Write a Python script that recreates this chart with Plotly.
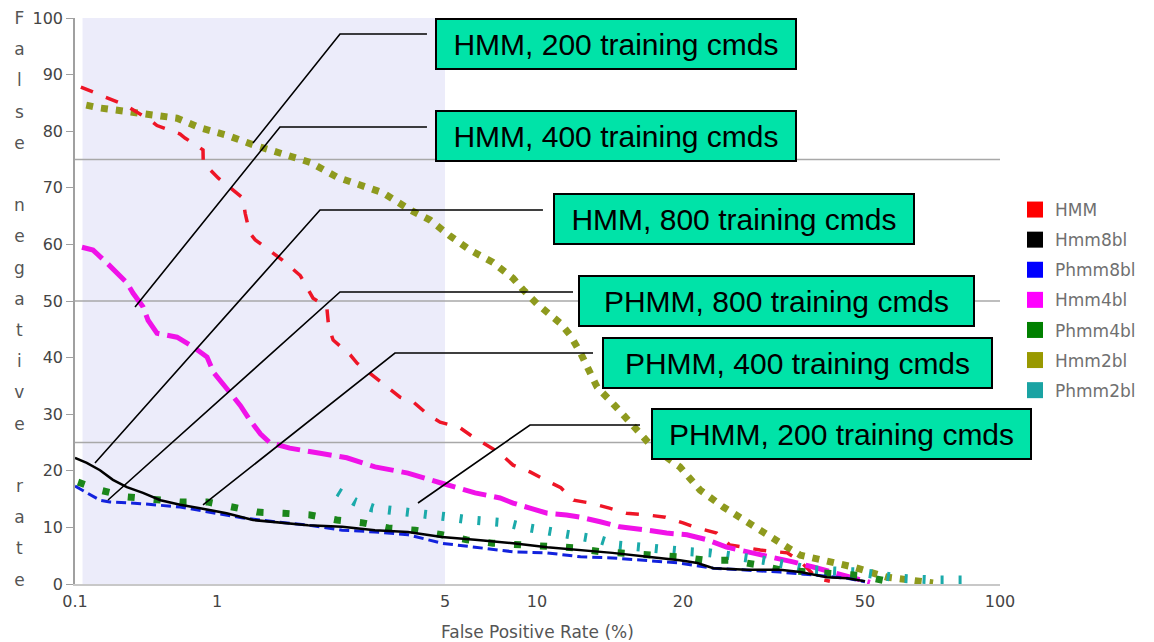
import numpy as np
import plotly.graph_objects as go

# custom x scale of the original chart (piecewise log, in axis units)
tick_vals = [0.1, 1, 5, 10, 20, 50, 100]
tick_text = ["0.1", "1", "5", "10", "20", "50", "100"]
tick_pos = [0, 142, 370, 462, 608, 790, 925]

# false positive rate (%) / false negative rate (%)
hmm_fpr = [0.11, 0.15, 0.225, 0.337, 0.378, 0.55, 0.595, 0.797, 0.80, 1.01, 1.08, 1.20, 1.22, 1.26, 1.31,
           1.45, 1.59, 1.80, 1.97, 2.17, 2.20, 2.27, 2.56, 2.69, 3.12, 3.64, 3.99, 4.44, 4.83, 5.6, 6.17,
           7.02, 7.57, 8.35, 9.49, 10.4, 11.2, 11.9, 12.9, 14.1, 15.3, 16.9, 18.4, 20.0, 21.5, 23.7, 25.3,
           29.5, 33.8, 36.1, 39.3, 41.9]
hmm_fnr = [87.8, 86.4, 84.6, 82.0, 81.0, 79.5, 78.8, 76.7, 74.4, 71.7, 70.3, 68.2, 65.5, 62.0, 60.8,
           59.0, 57.2, 54.5, 50.5, 49.0, 45.4, 43.1, 40.5, 39.0, 36.0, 33.0, 32.2, 29.9, 28.6, 27.6, 26.0,
           24.2, 23.1, 21.0, 19.8, 18.4, 17.0, 14.8, 14.3, 13.4, 12.5, 12.2, 11.8, 10.8, 9.9, 9.0, 6.9,
           6.0, 5.5, 4.0, 1.0, 0.5]

hmm8_fpr = [0.1, 0.121, 0.15, 0.185, 0.232, 0.301, 0.40, 0.55, 0.76, 1.07, 1.29, 1.56, 1.90, 2.42, 3.05,
            3.85, 4.89, 6.27, 8.35, 10.5, 12.3, 14.3, 16.9, 19.7, 21.5, 23.3, 27.6, 32.6, 36.1, 41.3, 45.7, 50]
hmm8_fnr = [22.3, 21.4, 20.1, 18.4, 17.1, 16.1, 14.8, 14.0, 13.4, 12.5, 11.3, 10.8, 10.4, 10.1, 9.5,
            9.2, 8.3, 7.8, 7.2, 6.5, 6.0, 5.5, 4.8, 4.2, 3.7, 2.8, 2.5, 2.5, 2.1, 1.2, 1.0, 0.5]

phmm8_fpr = [0.1, 0.15, 0.176, 0.29, 0.55, 0.893, 1.19, 1.51, 1.90, 2.42, 3.05, 3.85, 4.89, 6.27, 8.35,
             10.5, 12.3, 14.3, 16.9, 19.7, 23.3, 27.6, 32.6, 38.5, 45.7, 50]
phmm8_fnr = [17.3, 14.8, 14.5, 14.2, 13.6, 12.7, 11.7, 11.0, 10.4, 9.5, 9.2, 8.7, 7.2, 6.5, 5.7,
             5.5, 4.8, 4.6, 4.2, 3.7, 2.8, 2.5, 2.1, 1.6, 1.0, 0.4]

hmm4_fpr = [0.112, 0.134, 0.168, 0.198, 0.232, 0.256, 0.301, 0.327, 0.378, 0.523, 0.678, 0.851, 0.95,
            1.10, 1.18, 1.26, 1.36, 1.45, 1.67, 2.07, 2.50, 3.05, 3.85, 4.89, 6.27, 7.57, 8.35, 9.49,
            10.5, 11.5, 12.3, 13.5, 14.8, 16.9, 18.5, 20.4, 22.6, 24.9, 28.4, 31.5, 34.8, 38.5, 42.6,
            47.1, 51.3]
hmm4_fnr = [59.5, 59.0, 56.7, 54.9, 53.2, 51.4, 49.0, 46.6, 44.3, 43.6, 41.9, 40.1, 37.3,
            33.7, 31.5, 29.0, 26.5, 25.0, 24.0, 23.1, 22.3, 20.7, 19.6, 17.8, 16.1, 15.2, 14.3, 13.4,
            12.5, 12.2, 11.8, 11.0, 10.1, 9.5, 9.0, 8.7, 7.8, 6.5, 5.5, 4.8, 3.9, 3.0, 2.1,
            1.2, 0.3]

phmm4_fpr = [0.105, 0.155, 0.232, 0.354, 0.55, 0.85, 1.11, 1.33, 1.60, 1.93, 2.33, 2.80, 3.35, 4.05,
             4.89, 5.90, 7.18, 8.8, 10.5, 11.9, 13.5, 15.3, 17.3, 19.7, 22.4, 25.3, 29.0, 32.6, 37.9,
             43.5, 48.8, 56]
phmm4_fnr = [18.0, 16.5, 15.4, 15.0, 14.5, 14.5, 13.6, 12.7, 12.5, 12.2, 11.3, 10.8, 9.9, 9.5,
             8.7, 7.8, 7.2, 6.9, 6.5, 6.4, 5.7, 5.5, 5.1, 4.8, 4.2, 4.2, 3.4, 2.5, 2.1,
             1.9, 1.5, 0.5]

hmm2_fpr = [0.12, 0.15, 0.244, 0.40, 0.523, 0.76, 1.07, 1.29, 1.59, 1.93, 2.33, 2.69, 3.23, 3.91, 4.50,
            5.19, 6.04, 7.18, 8.35, 9.0, 10.0, 11.2, 11.7, 12.3, 12.9, 13.3, 14.3, 15.6, 17.3, 19.7,
            21.8, 24.5, 27.1, 29.9, 33.8, 36.1, 42.6, 47.1, 56, 65.3, 70.9]
hmm2_fnr = [84.6, 84.1, 83.4, 82.5, 82.3, 80.6, 79.3, 77.6, 76.1, 74.5, 71.9, 70.8, 69.1, 66.1, 64.3,
            61.5, 59.0, 56.8, 54.0, 52.0, 49.5, 46.0, 44.0, 40.8, 37.3, 34.8, 32.0, 28.4, 24.2, 20.7,
            16.6, 13.6, 11.3, 9.0, 6.5, 5.1, 3.9, 3.0, 1.2, 0.7, 0.2]

phmm2_fpr = [2.35, 2.65, 3.01, 3.44, 3.91, 4.50, 5.19, 6.04, 6.86, 7.98, 9.0, 10.3, 11.2, 12.3, 13.5,
             14.6, 16.1, 17.3, 19.1, 20.7, 22.9, 24.9, 27.6, 29.9, 34.3, 37.9, 48.8, 53.1, 59.8, 72.4,
             79.4, 88.0]
phmm2_fnr = [16.3, 14.5, 13.4, 13.1, 12.7, 12.2, 11.8, 11.3, 11.0, 10.8, 10.1, 9.5, 9.0, 8.3, 7.8,
             6.9, 6.5, 6.4, 6.0, 5.7, 5.5, 5.1, 4.8, 4.2, 3.3, 2.5, 2.1, 1.6, 1.0, 0.7,
             0.7, 0.7]

shade_from, shade_to = 0.113, 5
grid_levels = [25, 50, 75]

callouts = ["HMM, 200 training cmds", "HMM, 400 training cmds", "HMM, 800 training cmds",
            "PHMM, 800 training cmds", "PHMM, 400 training cmds", "PHMM, 200 training cmds"]


def to_axis(fpr):
    return np.interp(np.log10(fpr), np.log10(tick_vals), tick_pos)


# plot area in window pixels: left 75, right 1000, top 18, bottom 584
def px_x(px):
    return (px - 75) / 925


def px_y(py):
    return (584 - py) / 566


series = [
    ("HMM", hmm_fpr, hmm_fnr, "#EE1526", 3.5, "13px,14px"),
    ("Hmm8bl", hmm8_fpr, hmm8_fnr, "#000000", 2.5, "solid"),
    ("Phmm8bl", phmm8_fpr, phmm8_fnr, "#1222DD", 3, "10px,5px"),
    ("Hmm4bl", hmm4_fpr, hmm4_fnr, "#F012E8", 5, "24px,8px"),
    ("Phmm4bl", phmm4_fpr, phmm4_fnr, "#1B861B", 7, "7px,19px"),
    ("Hmm2bl", hmm2_fpr, hmm2_fnr, "#8E9A1E", 7, "7px,8px"),
    ("Phmm2bl", phmm2_fpr, phmm2_fnr, "#1BAAAA", 9, "3px,15px"),
]
legend_colors = ["#FF0000", "#000000", "#0000FF", "#FF00FF", "#008000", "#999900", "#1AA3A3"]

fig = go.Figure()

# draw order: back to front
for idx in [5, 0, 3, 6, 4, 2, 1]:
    name, xs, ys, color, width, dash = series[idx]
    fig.add_trace(go.Scatter(x=to_axis(xs), y=ys, mode="lines", name=name, showlegend=False,
                             line=dict(color=color, width=width, dash=dash)))

for (name, _, _, _, _, _), lc in zip(series, legend_colors):
    fig.add_trace(go.Scatter(x=[None], y=[None], mode="markers", name=name, legendgroup=name,
                             marker=dict(symbol="square", size=16, color=lc)))

shapes = [dict(type="rect", xref="x", yref="paper", x0=to_axis(shade_from), x1=to_axis(shade_to),
               y0=0, y1=1, fillcolor="#ECECFA", line=dict(width=0), layer="below")]
for g in grid_levels:
    shapes.append(dict(type="line", xref="paper", yref="y", x0=0, x1=1, y0=g, y1=g,
                       line=dict(color="#A8A8A8", width=1.5), layer="below"))

# leader lines (pixel positions) and callout boxes (left, top, right, bottom)
leaders = [
    [(427, 34), (340, 34), (253, 143)],
    [(427, 127), (280, 127), (135, 307)],
    [(543, 210), (320, 210), (95, 463)],
    [(573, 292), (340, 292), (108, 500)],
    [(593, 353), (395, 353), (203, 505)],
    [(640, 425), (530, 425), (418, 503)],
]
boxes = [(435, 18, 797, 70), (435, 110, 797, 162), (553, 193, 915, 245),
         (578, 275, 975, 327), (602, 337, 993, 389), (651, 408, 1032, 460)]

for pts in leaders:
    path = "M " + " L ".join(f"{px_x(a):.4f},{px_y(b):.4f}" for a, b in pts)
    shapes.append(dict(type="path", xref="paper", yref="paper", path=path,
                       line=dict(color="#000000", width=1.6)))

annotations = []
for text, (l, t, r, b) in zip(callouts, boxes):
    annotations.append(dict(
        text=text, xref="paper", yref="paper", x=px_x((l + r) / 2), y=px_y((t + b) / 2),
        xanchor="center", yanchor="middle", showarrow=False, width=r - l - 4, height=b - t - 4,
        bgcolor="#00E3A8", bordercolor="#000000", borderwidth=2, borderpad=0,
        font=dict(family="Liberation Sans", size=30, color="#000000")))

# vertical, letter-by-letter y axis title
ytitle = "False negative rate"
letters = ["<span style='font-size:17px'>%s</span>" % c if c != " " else "" for c in ytitle]
annotations.append(dict(
    text="<br>".join(letters), xref="paper", yref="paper", x=px_x(19), y=px_y(299),
    xanchor="center", yanchor="middle", showarrow=False, align="center",
    font=dict(family="DejaVu Sans", size=24, color="#555555")))

annotations.append(dict(
    text="False Positive Rate (%)", xref="paper", yref="paper", x=0.5, y=px_y(632),
    xanchor="center", yanchor="middle", showarrow=False,
    font=dict(family="DejaVu Sans", size=17, color="#555555")))

# the page body adds an 8px offset, so the figure is 8px smaller and shifted
fig.update_layout(
    width=1146, height=634,
    margin=dict(l=67, r=154, t=10, b=58, autoexpand=False),
    paper_bgcolor="white", plot_bgcolor="white",
    font=dict(family="DejaVu Sans", color="#555555"),
    shapes=shapes, annotations=annotations,
    legend=dict(x=px_x(1015), y=px_y(192), xanchor="left", yanchor="top",
                font=dict(size=17, color="#707070"), tracegroupgap=5,
                bgcolor="rgba(0,0,0,0)"),
    xaxis=dict(range=[0, 925], tickvals=tick_pos, ticktext=tick_text, showgrid=False,
               zeroline=False, showline=True, linecolor="#C8C8C8", linewidth=2, ticks="",
               automargin=False, ticklabelstandoff=2,
               tickfont=dict(size=16, color="#444444")),
    yaxis=dict(range=[0, 100], tickvals=list(range(0, 101, 10)), showgrid=False, zeroline=False,
               showline=True, linecolor="#A0A0A0", linewidth=1.5, ticks="outside", ticklen=7,
               automargin=False,
               tickcolor="#A0A0A0", tickfont=dict(size=16, color="#444444")),
)

fig.write_html("out.html")
